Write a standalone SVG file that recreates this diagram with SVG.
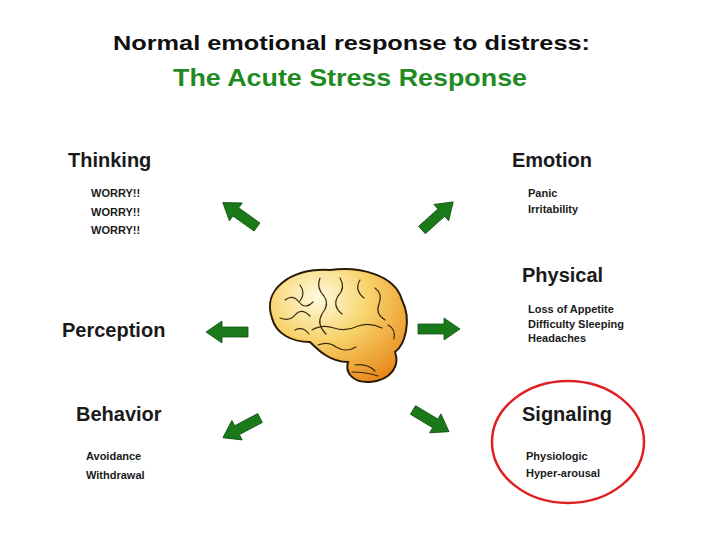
<svg xmlns="http://www.w3.org/2000/svg" width="728" height="546" viewBox="0 0 728 546">
<style>
.t{font-family:"Liberation Sans",Arial,sans-serif;font-weight:bold}
.h{font-size:20px;fill:#1a1a1a}
.s{font-size:11px;fill:#1a1a1a}
.ar{fill:#1a7a1a;stroke:#0f4f0f;stroke-width:0.8}
.fold{fill:none;stroke:#3a2a10;stroke-width:1.2;stroke-linecap:round}
</style>
<defs>
<path id="arr" d="M0,-5 L26,-5 L26,-11 L42,0 L26,11 L26,5 L0,5 Z"/>
<radialGradient id="bg" cx="0.35" cy="0.25" r="0.85">
<stop offset="0" stop-color="#fffbe0"/>
<stop offset="0.45" stop-color="#f7d36a"/>
<stop offset="1" stop-color="#e8881a"/>
</radialGradient>
</defs>
<rect width="728" height="546" fill="#fff"/>
<text class="t" x="113" y="50" font-size="21" textLength="477" lengthAdjust="spacingAndGlyphs" fill="#111">Normal emotional response to distress:</text>
<text class="t" x="173" y="86" font-size="24" textLength="354" lengthAdjust="spacingAndGlyphs" fill="#1f8a1f">The Acute Stress Response</text>

<g id="thinking"><text class="t h" x="68" y="167">Thinking</text>
<text class="t s" x="91" y="197">WORRY!!</text><text class="t s" x="91" y="216">WORRY!!</text><text class="t s" x="91" y="234">WORRY!!</text></g>
<g id="emotion"><text class="t h" x="512" y="167">Emotion</text>
<text class="t s" x="528" y="197">Panic</text><text class="t s" x="528" y="213">Irritability</text></g>
<g id="physical"><text class="t h" x="522" y="282">Physical</text>
<text class="t s" x="528" y="313">Loss of Appetite</text><text class="t s" x="528" y="328">Difficulty Sleeping</text><text class="t s" x="528" y="342">Headaches</text></g>
<g id="perception"><text class="t h" x="62" y="337">Perception</text></g>
<g id="behavior"><text class="t h" x="76" y="421">Behavior</text>
<text class="t s" x="86" y="460">Avoidance</text><text class="t s" x="86" y="479">Withdrawal</text></g>
<g id="signaling"><text class="t h" x="522" y="421">Signaling</text>
<text class="t s" x="526" y="460">Physiologic</text><text class="t s" x="526" y="477">Hyper-arousal</text>
<ellipse cx="568" cy="442" rx="76" ry="61" fill="none" stroke="#e02020" stroke-width="2.5"/></g>

<g id="brain">
<path d="M272,318 C262,290 290,268 330,270 C360,266 395,275 402,300 C412,320 405,345 395,352 C400,365 392,380 370,382 C352,383 345,372 348,362 C330,362 318,350 310,342 C292,342 276,334 272,318 Z" fill="url(#bg)" stroke="#2a1a05" stroke-width="2"/>
<path class="fold" d="M285,300 q8,-6 14,2 q6,8 14,0 M280,318 q10,4 16,-4 q6,-6 14,2 M300,285 q6,8 0,16 M320,278 q-4,10 4,18 q6,8 -2,18 q-6,10 4,20 M340,278 q6,10 -2,18 q-6,10 4,18 M360,280 q-6,10 4,18 M375,288 q8,6 4,16 q-4,10 6,16 M312,330 q10,-6 22,-2 q12,4 24,-2 q12,-4 24,2 M318,345 q10,-4 18,2 q10,6 20,0 M355,365 q12,-2 20,6 M352,372 q14,0 26,4 M388,325 q8,4 6,14 M295,330 q8,-4 14,4"/>
</g>

<g id="connectors">
<use href="#arr" class="ar" transform="translate(248,332) rotate(180)"/>
<use href="#arr" class="ar" transform="translate(418,329)"/>
<use href="#arr" class="ar" transform="translate(257,227) rotate(215.5)"/>
<use href="#arr" class="ar" transform="translate(422,230) rotate(-42)"/>
<use href="#arr" class="ar" transform="translate(260,418) rotate(152)"/>
<use href="#arr" class="ar" transform="translate(413,410) rotate(31)"/>
</g>
</svg>
